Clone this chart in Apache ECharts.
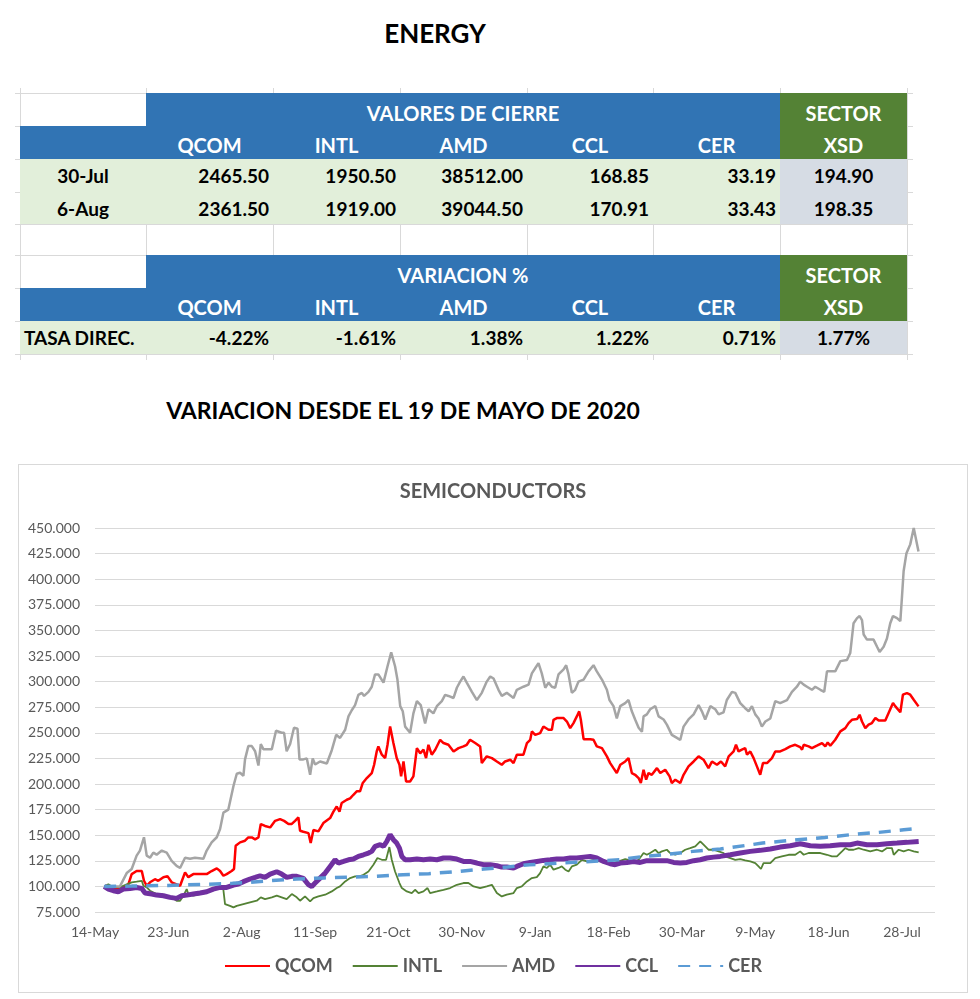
<!DOCTYPE html>
<html>
<head>
<meta charset="utf-8">
<script src="https://cdn.jsdelivr.net/npm/echarts@6/dist/echarts.min.js"></script>
<style>
  body { margin:0; background:#fff; font-family: Lato, "Open Sans", sans-serif; }
  #page { position:relative; width:980px; height:999px; overflow:hidden; background:#fff; }
  .t { position:absolute; font-weight:bold; color:#000; white-space:nowrap; transform:translate(-50%,-50%); }
  .cell { position:absolute; box-sizing:border-box; font-weight:bold; font-size:19px; display:flex; align-items:center; white-space:nowrap; }
  .gl { position:absolute; background:#D9D9D9; }
  #frame { position:absolute; left:18px; top:464px; width:950px; height:529px; box-sizing:border-box; border:1px solid #D9D9D9; }
  #chart { position:absolute; left:18px; top:464px; width:950px; height:529px; }
</style>
</head>
<body>
<div id="page">
  <div class="t" style="left:435px;top:33px;font-size:26px;">ENERGY</div>
  <div class="t" style="left:403px;top:410px;font-size:23px;">VARIACION DESDE EL 19 DE MAYO DE 2020</div>
  <div id="frame"></div>
  <div id="chart"></div>
</div>
<script>
// ---------------- table data ----------------
const tickers = ['QCOM', 'INTL', 'AMD', 'CCL', 'CER'];
const sectorTicker = 'XSD';
const closeDates = ['30-Jul', '6-Aug'];
const close30Jul = [2465.50, 1950.50, 38512.00, 168.85, 33.19];
const close6Aug = [2361.50, 1919.00, 39044.50, 170.91, 33.43];
const xsdClose = [194.90, 198.35];
const variacionLabel = 'TASA DIREC.';
const variacionPct = [-4.22, -1.61, 1.38, 1.22, 0.71];
const xsdVariacionPct = 1.77;

// ---------------- chart data ----------------
// x = days since 14-May-2020, y = index (19-May-2020 = 100)
const xTickLabels = ['14-May','23-Jun','2-Aug','11-Sep','21-Oct','30-Nov','9-Jan','18-Feb','30-Mar','9-May','18-Jun','28-Jul'];
const seriesNames = ['QCOM', 'INTL', 'AMD', 'CCL', 'CER'];

const qcom = [[5,100],[8.2,99],[11.8,97.4],[15.5,99],[18.2,102],[20,112],[22.7,115],[25.5,115],[26.7,105.5],[28.2,100.6],[30,104],[32.7,107],[34.5,105.5],[37.3,109],[39.5,110],[41.8,104],[44.5,102],[46.4,100.6],[49.1,113.7],[50.9,109],[53.6,112],[57.3,112],[60.9,112],[63.6,115],[66.4,117.6],[68.2,115],[70,110.4],[71.8,112],[74.5,115],[75.8,117],[76.7,139.7],[79.1,143],[81.8,144.6],[83.6,147.8],[85.5,147.8],[87.3,146],[89.1,147.8],[90.4,160.9],[92.7,159],[95.5,157.6],[98.2,164],[100.9,165.7],[103.1,164],[105.5,160.9],[107.3,161],[109.1,164],[110.9,167.4],[111.8,154.4],[113.6,153.4],[114.5,155],[116.4,152],[117.6,142.3],[119.1,155],[121.8,153.7],[124.5,161.8],[128.2,166.7],[130,173],[131.8,178],[133.3,173],[134.5,181.4],[137.3,184.6],[139.1,186],[140.9,189.5],[142.7,192.8],[144.5,192.8],[146,201],[148.2,205.8],[150.9,210.7],[152.2,218.8],[153.6,231.8],[154.5,236.7],[156.4,228.6],[158.2,225.3],[159.5,238.3],[160.9,256.2],[162.7,240],[164.5,225.3],[166,218.8],[166.9,207.4],[168.2,222],[169.6,202.5],[171.8,202.5],[173.6,207.4],[175.5,235],[177.3,230],[179.1,233.5],[180.5,225.3],[181.8,238.3],[183.6,228.6],[185.5,233.5],[188.2,243.2],[190,240],[192.7,238.3],[195.5,231.8],[198.2,235],[200.9,236.7],[202.7,238.3],[204.5,243.2],[207.3,240],[210,236.7],[210.9,220.4],[213.6,227],[216.4,225.3],[219.1,222],[221.8,218.8],[223.6,222],[226.4,223.7],[228.2,220.4],[230,228.6],[233.6,228.6],[235.5,240],[237.3,243.2],[238.2,251.4],[240,248],[242.7,249.7],[244.5,256.2],[247.3,253],[249.1,253],[250,262.7],[251.8,264.4],[255.5,264.4],[257.3,261],[259.1,254.6],[260.9,259.5],[262.7,266],[264,270.9],[264.9,262.7],[266.4,243.8],[270,243.8],[271.8,243.2],[273.6,236.7],[276.4,235],[279.1,227],[280.9,220.4],[282.7,215.5],[284.5,210.7],[286.4,218.8],[289.1,222],[290.9,225.3],[292.7,210.7],[294.5,209],[296.4,205.8],[297.6,200.9],[299.1,213.9],[300.5,204.2],[301.8,210.7],[303.6,209],[306.4,215.5],[308.2,210.7],[310.9,213.9],[313.3,207.4],[314.5,200.9],[316.4,204.2],[319.1,200.9],[320.9,209],[323.6,217.2],[326.4,222],[329.1,227],[331.8,223.7],[334.5,215.5],[336.4,222],[339.1,218.8],[341.3,222],[343.6,217.2],[345.5,227],[348.2,231.8],[349.5,238.3],[350.9,231.8],[352.7,233.5],[354.5,235],[355.5,228.6],[357.3,231.8],[359.1,225.3],[360.9,217.2],[362.7,209],[364.2,220.4],[366.4,220.4],[369.1,225.3],[370.9,231.8],[373.6,231.8],[376.4,234],[379.1,236.7],[381.8,238.3],[384.5,236],[385.5,233.5],[386.4,238.3],[389.1,236.7],[390.9,235],[393.6,237.4],[396.4,240],[398.2,236.7],[399.5,240.6],[400.9,237.4],[403.6,243.2],[406.4,251.4],[409.1,254.6],[410.9,259.5],[412.7,262.7],[415.5,263.4],[416.9,267.6],[418.2,261],[420,254.6],[421.8,257.9],[423.6,259.5],[425.5,264.4],[427.3,262],[430.9,262],[432.7,269.3],[435.1,279],[436.4,275.8],[439.1,270],[440.5,287.2],[442.7,288.8],[444.5,287.2],[446.4,282.3],[449,275.8]];

const intl = [[5,100],[7.3,102],[10,99],[13.6,99],[17.3,102],[20,104],[22.7,104.6],[25.5,105.5],[26.4,100.6],[28.2,99],[30,95.8],[33.6,92.5],[36.4,92.5],[39.1,89.3],[41.8,89.3],[44.5,86],[46.4,86],[48.2,90.9],[50,97.4],[50.9,92.5],[53.6,90.9],[57.3,92.5],[60.9,94],[65.5,97.4],[69.1,99],[70,96.7],[70.9,82.7],[73.6,81],[75.5,79.5],[77.3,81],[80.9,82.7],[84.5,84.4],[88.2,86],[90.4,89.3],[92.7,87.6],[96.4,89.3],[99.1,90.9],[101.8,89.3],[104.5,87.6],[107.3,92.5],[110,89.3],[111.8,86],[114.5,90.2],[117.3,85.4],[119.1,88.6],[121.8,90.2],[125.5,91.9],[129.1,95.1],[131.8,98.4],[133.6,100],[136.4,104.9],[139.1,108.1],[141.8,109.8],[144.2,109.8],[146.4,111.4],[149.1,114.6],[151.8,121.2],[154,127.7],[156.4,126],[158.7,126],[160.5,138.4],[161.8,126],[163.6,114.6],[166,103.3],[167.3,98.4],[170,95.1],[172.7,93.5],[174.5,96.7],[176.4,93.5],[179.1,95.1],[181.3,98.4],[182.7,93.5],[186.4,95.1],[190,96.7],[193.6,98.4],[197.3,101.6],[200.9,103.3],[203.6,103.3],[206.4,100],[210,98.4],[213.6,100],[216.4,101.6],[219.1,93.5],[221.8,90.2],[224.5,91.9],[228.2,93.5],[230,98.4],[232.7,100],[235.5,104.9],[238.2,108.1],[240.9,109],[242.7,113],[244.5,119.5],[246.4,118],[248.2,121.2],[250,116.3],[252.7,118],[254.5,119.5],[256.4,116.3],[258.2,114.6],[260,119.5],[262.7,121.2],[265.5,126],[268.2,124.4],[271.8,126],[275.5,124.4],[280,123.4],[282.7,122.8],[285.5,124.4],[289.1,126.7],[291.8,125.4],[294.5,123.4],[296.4,126],[299.1,132.6],[300.9,130.9],[302.7,132.6],[305.5,135.8],[307.3,132.6],[309.1,134.2],[311.8,135.8],[313.6,132.6],[316.4,130.9],[319.1,132.6],[321.8,135.8],[324.5,137.4],[327.3,139.1],[330,143.9],[331.8,140.7],[334.5,135.8],[337.3,135.8],[340,134.2],[342.7,132.6],[343.6,129.3],[346.4,127.7],[349.1,126],[351.8,126.7],[354.5,125.4],[357.3,124.4],[360,122.8],[361.8,119.5],[363.1,117],[364.5,122.8],[368.2,122.8],[370.9,127.7],[374.5,129.3],[378.2,130.9],[381.8,130.9],[384.5,134.2],[386.4,130.9],[389.1,132.6],[392.7,132.6],[395.5,132.6],[399.1,130.9],[401.8,129.3],[404.5,129.3],[407.3,134.2],[409.1,137.4],[410.9,135.8],[413.6,135.8],[416.4,137.4],[419.1,135.8],[422.7,134.2],[426.4,135.8],[429.1,134.2],[431.8,137.4],[434.5,137.4],[435.5,130.9],[438.2,135.8],[440.9,134.2],[443.6,135.8],[446.4,134.2],[449.1,133.2]];

const amd = [[5,100],[13.6,100],[17.3,113],[20,117],[22.7,130],[24.5,135],[26.7,148],[28.2,130],[30,128],[31.8,133],[33.6,131],[36.4,135],[39.1,133],[41.8,125],[44.5,120],[46.4,118],[49.1,128],[51.8,127],[54.5,128],[59.1,127],[60.9,135],[63.6,143],[66.4,148],[68.2,156],[70,172],[72.7,175],[75.5,198],[77.3,210],[79.1,211],[80.9,208],[81.8,224],[83.6,237],[85.5,237],[87.3,232],[89.1,218],[90.4,239],[91.8,234],[96.4,234],[98.7,252],[101.8,250],[103.1,250],[104.5,232],[106.4,239],[108.5,255],[110.4,254],[111.5,224],[113.6,224],[115.5,225],[117.3,209],[118.7,225],[120,219],[122.7,222],[126.4,220],[129.1,233],[131.5,248],[133.6,245],[136.4,253],[138.2,266],[140,272],[141.8,277],[143.6,287],[145.5,289],[146.7,286],[149.1,290],[150.9,295],[152.7,307],[154.5,307],[157.3,299],[159.5,315],[161.5,328.5],[163.6,315],[164.9,302],[166.4,276],[167.8,271],[169.1,256],[171.8,250],[173.6,269],[175.5,281],[177.6,277],[180,259],[181.8,273],[184.5,269],[186.4,276],[189.1,281],[190.9,287],[192.7,286],[195.5,284],[197.3,294],[199.1,300],[200.9,305],[202.7,299],[205.5,290],[208.2,282],[210.9,289],[213.6,300],[215.5,305],[217.3,303],[220,292],[221.8,286],[224.5,289],[228.2,284],[230,292],[233.6,295],[236.4,297],[238.2,308],[240,313],[241.8,318],[243.6,308],[245.5,294],[247.3,299],[249.1,295],[250.9,294],[252.7,307],[255.5,312],[256.9,316],[258.2,307],[260,289],[261.8,292],[263.6,300],[266.4,302],[269.1,310],[271.8,316],[273.6,310],[276.4,302],[279.1,292],[280.5,282],[282.7,276],[284.5,264],[286.4,276],[289.1,279],[290.9,282],[292.7,271],[294.5,263],[296.4,255],[298.2,251],[299.1,266],[300.9,268],[302.7,273],[305.5,276],[307.3,266],[310,263],[311.8,258],[314.5,248],[317.3,245],[319.1,243],[320.9,256],[323.6,263],[326.4,268],[329.1,277],[330.9,271],[332.7,263],[335.5,276],[338.2,273],[340,268],[342.7,270],[344.5,282],[347.3,290],[349.1,289],[351.8,279],[354.5,274],[356.4,271],[358.2,276],[360,268],[361.8,264],[363.6,256],[365.5,261],[368.2,264],[370.9,281],[373.6,279],[377.3,282],[380,290],[382.7,295],[384.5,300],[386.4,297],[388.2,295],[390.9,292],[392.7,295],[395.5,292],[397.6,290],[399.1,310],[403.6,310],[406.4,320],[410,321],[411.8,328],[413.6,357],[415.5,362],[416.9,364],[418.2,360],[419.1,346],[420.9,341],[424.5,341],[426.4,334],[427.8,329],[430,334],[431.8,342],[433.6,357],[435.1,364],[437.3,362],[439.1,359],[440,383],[440.9,408],[442.4,425],[444.5,434],[446.4,450],[447.3,450],[449,427]];

const ccl = [[5,100],[7.3,97.4],[10,95.8],[12.7,94.8],[15.5,97.4],[19.1,98],[22.7,99],[25.5,98],[27.3,93.5],[30.9,92.5],[33.6,91.5],[37.3,90.9],[40.9,89.3],[44.5,88.3],[47.3,90.9],[50,91.5],[53.6,92.5],[57.3,93.5],[60.9,94.8],[64.5,97.4],[68.2,99],[71.8,99],[75.5,101.3],[78.2,102.3],[80.9,104.6],[84.5,107.2],[87.3,108.8],[90,110.4],[92.7,108.8],[95.5,112],[99.1,114.3],[101.8,112],[104.5,108.8],[107.3,109.8],[110,109.8],[113.6,107.8],[114.5,106.5],[116.4,101.6],[118.2,100],[120,103.3],[122.7,108.1],[125.5,113],[128.2,119.5],[130.9,126],[132.7,122.8],[135.5,124.4],[138.2,126],[140.9,126.7],[143.6,129.3],[146.4,130.9],[149.1,132.6],[150.9,134.2],[152.7,139.1],[155.5,140.7],[157.3,139.1],[159.1,143.9],[160.9,150.5],[162.7,145.6],[164.5,142.3],[166,137.4],[167.3,129.3],[169.1,126],[171.8,126],[175.5,126.7],[179.1,126],[182.7,126.7],[186.4,126],[190,127.7],[193.6,127.7],[197.3,126.7],[200.9,124.4],[204.5,124.4],[208.2,122.8],[211.8,121.2],[215.5,121.2],[219.1,120.2],[221.8,118.9],[224.5,118.9],[228.2,117.9],[230,119.5],[233.6,122.1],[237.3,123.4],[240.9,124.4],[244.5,125.4],[248.2,126],[251.8,126.7],[255.5,126.7],[259.1,127.7],[262.7,127.7],[266.4,128.6],[270,129.3],[273.6,127.7],[277.3,124.4],[280.9,122.1],[283.6,121.2],[286.4,122.8],[290,123.4],[293.6,124.4],[297.3,123.4],[300.9,125.1],[304.5,125.1],[308.2,125.1],[311.8,125.1],[315.5,123.4],[319.1,122.8],[322.7,123.4],[326.4,125.1],[330,126],[333.6,127.7],[337.3,128.6],[340.9,129.3],[346.4,130.9],[351.8,132.6],[357.3,134.2],[362.7,135.2],[368.2,136.5],[373.6,138.4],[379.1,139.7],[384.5,141.7],[390,139.7],[395.5,139.1],[400.9,139.7],[406.4,140.7],[411.8,140.7],[415.5,142.3],[420.9,140.7],[426.4,140.7],[431.8,141.7],[437.3,142.3],[442.7,143],[449.1,143.9]];

const cer = [[5,100],[20,100.3],[40,101],[60,102],[75,103],[85,104],[95,105.5],[110,107.2],[125,108.3],[153,109.8],[168,111.4],[182,112.4],[198,114.6],[212,116.9],[225,118.9],[237,121.2],[261,123.5],[286,126],[299,129.3],[310,130.9],[326,134.2],[341,136.5],[364,142.3],[383,145.6],[398,147.8],[412,150.5],[427,152.7],[441,155.3],[449,156.5]];

// ---------------- table drawing ----------------
const page = document.getElementById('page');
const colX = [20, 146, 273, 400, 527, 653, 780, 907];
function addDiv(cls, style, text) {
  const d = document.createElement('div');
  d.className = cls;
  Object.assign(d.style, style);
  if (text !== undefined) d.textContent = text;
  page.insertBefore(d, document.getElementById('frame'));
  return d;
}
// spreadsheet gridlines
[93,126,159,192,224,255,288,321,354].forEach(y => addDiv('gl', {left:'15px', top:y+'px', width:'898px', height:'1px'}));
colX.forEach(x => addDiv('gl', {left:x+'px', top:'88px', width:'1px', height:'272px'}));

function cell(c0, c1, y0, y1, bg, text, align, color, extra) {
  const st = {left:colX[c0]+'px', top:y0+'px', width:(colX[c1]-colX[c0])+'px', height:(y1-y0)+'px',
    background:bg, color:color || '#000', justifyContent: align === 'right' ? 'flex-end' : (align === 'left' ? 'flex-start' : 'center'),
    paddingRight: align === 'right' ? '4px' : '0', paddingLeft: align === 'left' ? '4px' : '0'};
  Object.assign(st, extra || {});
  return addDiv('cell', st, text);
}
const BLUE = '#3174B4', GREEN = '#548235', LGREEN = '#E2EFDA', LGRAY = '#D6DCE4';
function fmt2(v) { return v.toFixed(2); }

function drawBlock(y, title, rows) {
  cell(1, 6, y, y + 33, BLUE, title, 'center', '#fff', {paddingTop:'6px', fontSize:'20px'});
  cell(6, 7, y, y + 33, GREEN, 'SECTOR', 'center', '#fff', {paddingTop:'6px', fontSize:'20px'});
  cell(0, 1, y + 33, y + 66, BLUE, '', 'center', '#fff');
  tickers.forEach((tk, i) => cell(i + 1, i + 2, y + 33, y + 66, BLUE, tk, 'center', '#fff', {paddingTop:'4px', fontSize:'20px'}));
  cell(6, 7, y + 33, y + 66, GREEN, sectorTicker, 'center', '#fff', {paddingTop:'4px', fontSize:'20px'});
  rows.forEach((r, k) => {
    const y0 = y + 66 + k * 33, y1 = y0 + (k === 1 ? 32 : 33);
    cell(0, 1, y0, y1, LGREEN, r.label, r.labelAlign, '#000');
    r.vals.forEach((v, i) => cell(i + 1, i + 2, y0, y1, LGREEN, v, 'right', '#000'));
    cell(6, 7, y0, y1, LGRAY, r.sector, 'center', '#000');
  });
}
drawBlock(93, 'VALORES DE CIERRE', [
  {label: closeDates[0], labelAlign:'center', vals: close30Jul.map(fmt2), sector: fmt2(xsdClose[0])},
  {label: closeDates[1], labelAlign:'center', vals: close6Aug.map(fmt2), sector: fmt2(xsdClose[1])}
]);
drawBlock(255, 'VARIACION %', [
  {label: variacionLabel, labelAlign:'left', vals: variacionPct.map(v => fmt2(v) + '%'), sector: fmt2(xsdVariacionPct) + '%'}
]);

// ---------------- chart ----------------
const FONT = 'Lato, "Open Sans", sans-serif';
const chart = echarts.init(document.getElementById('chart'), null, {renderer: 'canvas'});
const styles = {
  QCOM: {color: '#FF0000', width: 2.5, type: 'solid'},
  INTL: {color: '#548235', width: 1.8, type: 'solid'},
  AMD:  {color: '#A5A5A5', width: 2.5, type: 'solid'},
  CCL:  {color: '#7030A0', width: 5, type: 'solid'},
  CER:  {color: '#5B9BD5', width: 3.5, type: [12, 9]}
};
const dataByName = {QCOM: qcom, INTL: intl, AMD: amd, CCL: ccl, CER: cer};
chart.setOption({
  animation: false,
  title: {
    text: 'SEMICONDUCTORS', left: 'center', top: 13,
    textStyle: {fontFamily: FONT, fontSize: 20, fontWeight: 'bold', color: '#595959'}
  },
  legend: {
    data: seriesNames, top: 488, left: 'center', itemWidth: 45, itemHeight: 1, itemGap: 19,
    itemStyle: {opacity: 0},
    textStyle: {fontFamily: FONT, fontSize: 18, fontWeight: 'bold', color: '#595959'}
  },
  grid: {left: 77, top: 64, width: 840, height: 384},
  xAxis: {
    type: 'value', min: 0, max: 458, interval: 40,
    axisLine: {show: false}, axisTick: {show: false}, splitLine: {show: false},
    axisLabel: {
      fontFamily: FONT, fontSize: 14, color: '#595959', margin: 13,
      formatter: v => (v % 40 === 0 && xTickLabels[v / 40] !== undefined) ? xTickLabels[v / 40] : ''
    }
  },
  yAxis: {
    type: 'value', min: 75, max: 450, interval: 25,
    axisLine: {show: false}, axisTick: {show: false},
    splitLine: {lineStyle: {color: '#D9D9D9', width: 1}},
    axisLabel: {fontFamily: FONT, fontSize: 14, color: '#595959', margin: 15, formatter: v => v.toFixed(3)}
  },
  series: seriesNames.map(n => ({
    name: n, type: 'line', data: dataByName[n], symbol: 'none', showSymbol: false,
    lineStyle: {color: styles[n].color, width: styles[n].width, type: styles[n].type},
    itemStyle: {color: styles[n].color}
  }))
});
</script>
</body>
</html>
